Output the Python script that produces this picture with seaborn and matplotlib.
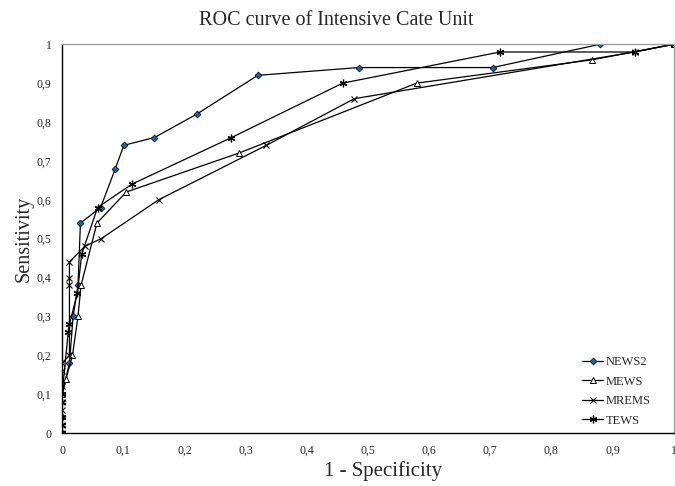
import numpy as np
import pandas as pd
import matplotlib
matplotlib.use('Agg')
import matplotlib.pyplot as plt
import seaborn as sns

# ROC points (1 - specificity, sensitivity)
news2_x = [0, 0, 0, 0.012, 0.018, 0.026, 0.03, 0.063, 0.087, 0.101, 0.151, 0.22, 0.32, 0.485, 0.704, 0.88, 1]
news2_y = [0, 0.04, 0.10, 0.18, 0.30, 0.38, 0.54, 0.58, 0.68, 0.74, 0.76, 0.82, 0.92, 0.94, 0.94, 1.0, 1.0]

mews_x = [0, 0, 0.0065, 0.017, 0.026, 0.031, 0.057, 0.105, 0.289, 0.58, 0.867, 1]
mews_y = [0, 0.10, 0.14, 0.20, 0.30, 0.38, 0.54, 0.62, 0.72, 0.90, 0.96, 1.0]

mrems_x = [0, 0, 0, 0, 0, 0, 0, 0.012, 0.012, 0.012, 0.012, 0.037, 0.064, 0.158, 0.334, 0.478, 0.936, 1]
mrems_y = [0, 0.02, 0.06, 0.08, 0.12, 0.16, 0.18, 0.20, 0.38, 0.40, 0.44, 0.48, 0.50, 0.60, 0.74, 0.86, 0.98, 1.0]

tews_x = [0, 0, 0, 0, 0, 0.01, 0.012, 0.025, 0.032, 0.058, 0.114, 0.277, 0.459, 0.716, 0.936, 1]
tews_y = [0, 0.02, 0.04, 0.08, 0.10, 0.26, 0.28, 0.36, 0.46, 0.58, 0.64, 0.76, 0.90, 0.98, 0.98, 1.0]

ticks = [0, 0.1, 0.2, 0.3, 0.4, 0.5, 0.6, 0.7, 0.8, 0.9, 1]
tick_labels = ['0', '0,1', '0,2', '0,3', '0,4', '0,5', '0,6', '0,7', '0,8', '0,9', '1']

sns.set_style('white')
plt.rcParams['font.family'] = ['Liberation Serif', 'DejaVu Serif']

fig = plt.figure(figsize=(6.75, 4.86), dpi=100)
ax = fig.add_axes([0.092, 0.109, 0.906, 0.8])

series = [
    ('NEWS2', news2_x, news2_y, dict(marker='D', markersize=3.5, markerfacecolor='#1f5fa8', markeredgecolor='black', markeredgewidth=0.5)),
    ('MEWS', mews_x, mews_y, dict(marker='^', markersize=4.5, markerfacecolor='white', markeredgecolor='black', markeredgewidth=0.7)),
    ('MREMS', mrems_x, mrems_y, dict(marker='x', markersize=5, markeredgecolor='black', markeredgewidth=0.8)),
    ('TEWS', tews_x, tews_y, dict(marker=(6, 2, 0), markersize=5.5, markeredgecolor='black', markeredgewidth=0.9)),
]
for name, xs, ys, kw in series:
    df = pd.DataFrame({'x': xs, 'y': ys})
    sns.lineplot(data=df, x='x', y='y', sort=False, estimator=None, color='black',
                 linewidth=0.9, label=name, ax=ax, **kw)

ax.set_xlim(0, 1)
ax.set_ylim(0, 1)
ax.set_xticks(ticks)
ax.set_xticklabels(tick_labels, fontsize=8.5)
ax.set_yticks(ticks)
ax.set_yticklabels(tick_labels, fontsize=8.5)
ax.tick_params(direction='inout', length=7, width=0.9, color='black', pad=4)
ax.tick_params(axis='x', pad=5)

for side in ['left', 'bottom']:
    ax.spines[side].set_color('black')
    ax.spines[side].set_linewidth(1.0)
for side in ['top', 'right']:
    ax.spines[side].set_color('#999999')
    ax.spines[side].set_linewidth(0.9)

# title is centred on the figure, not on the axes
ax.set_title('ROC curve of Intensive Cate Unit', fontsize=14.5, pad=13.5, x=0.449)
ax.set_xlabel('1 - Specificity', fontsize=15, labelpad=3, x=0.525)
ax.set_ylabel('Sensitivity', fontsize=14.5, labelpad=2)

ax.legend(loc='lower right', bbox_to_anchor=(0.972, 0.0), frameon=False, fontsize=9,
          handlelength=1.7, handletextpad=0.15, labelspacing=0.6, borderpad=0)

fig.savefig('out.png', dpi=100)
